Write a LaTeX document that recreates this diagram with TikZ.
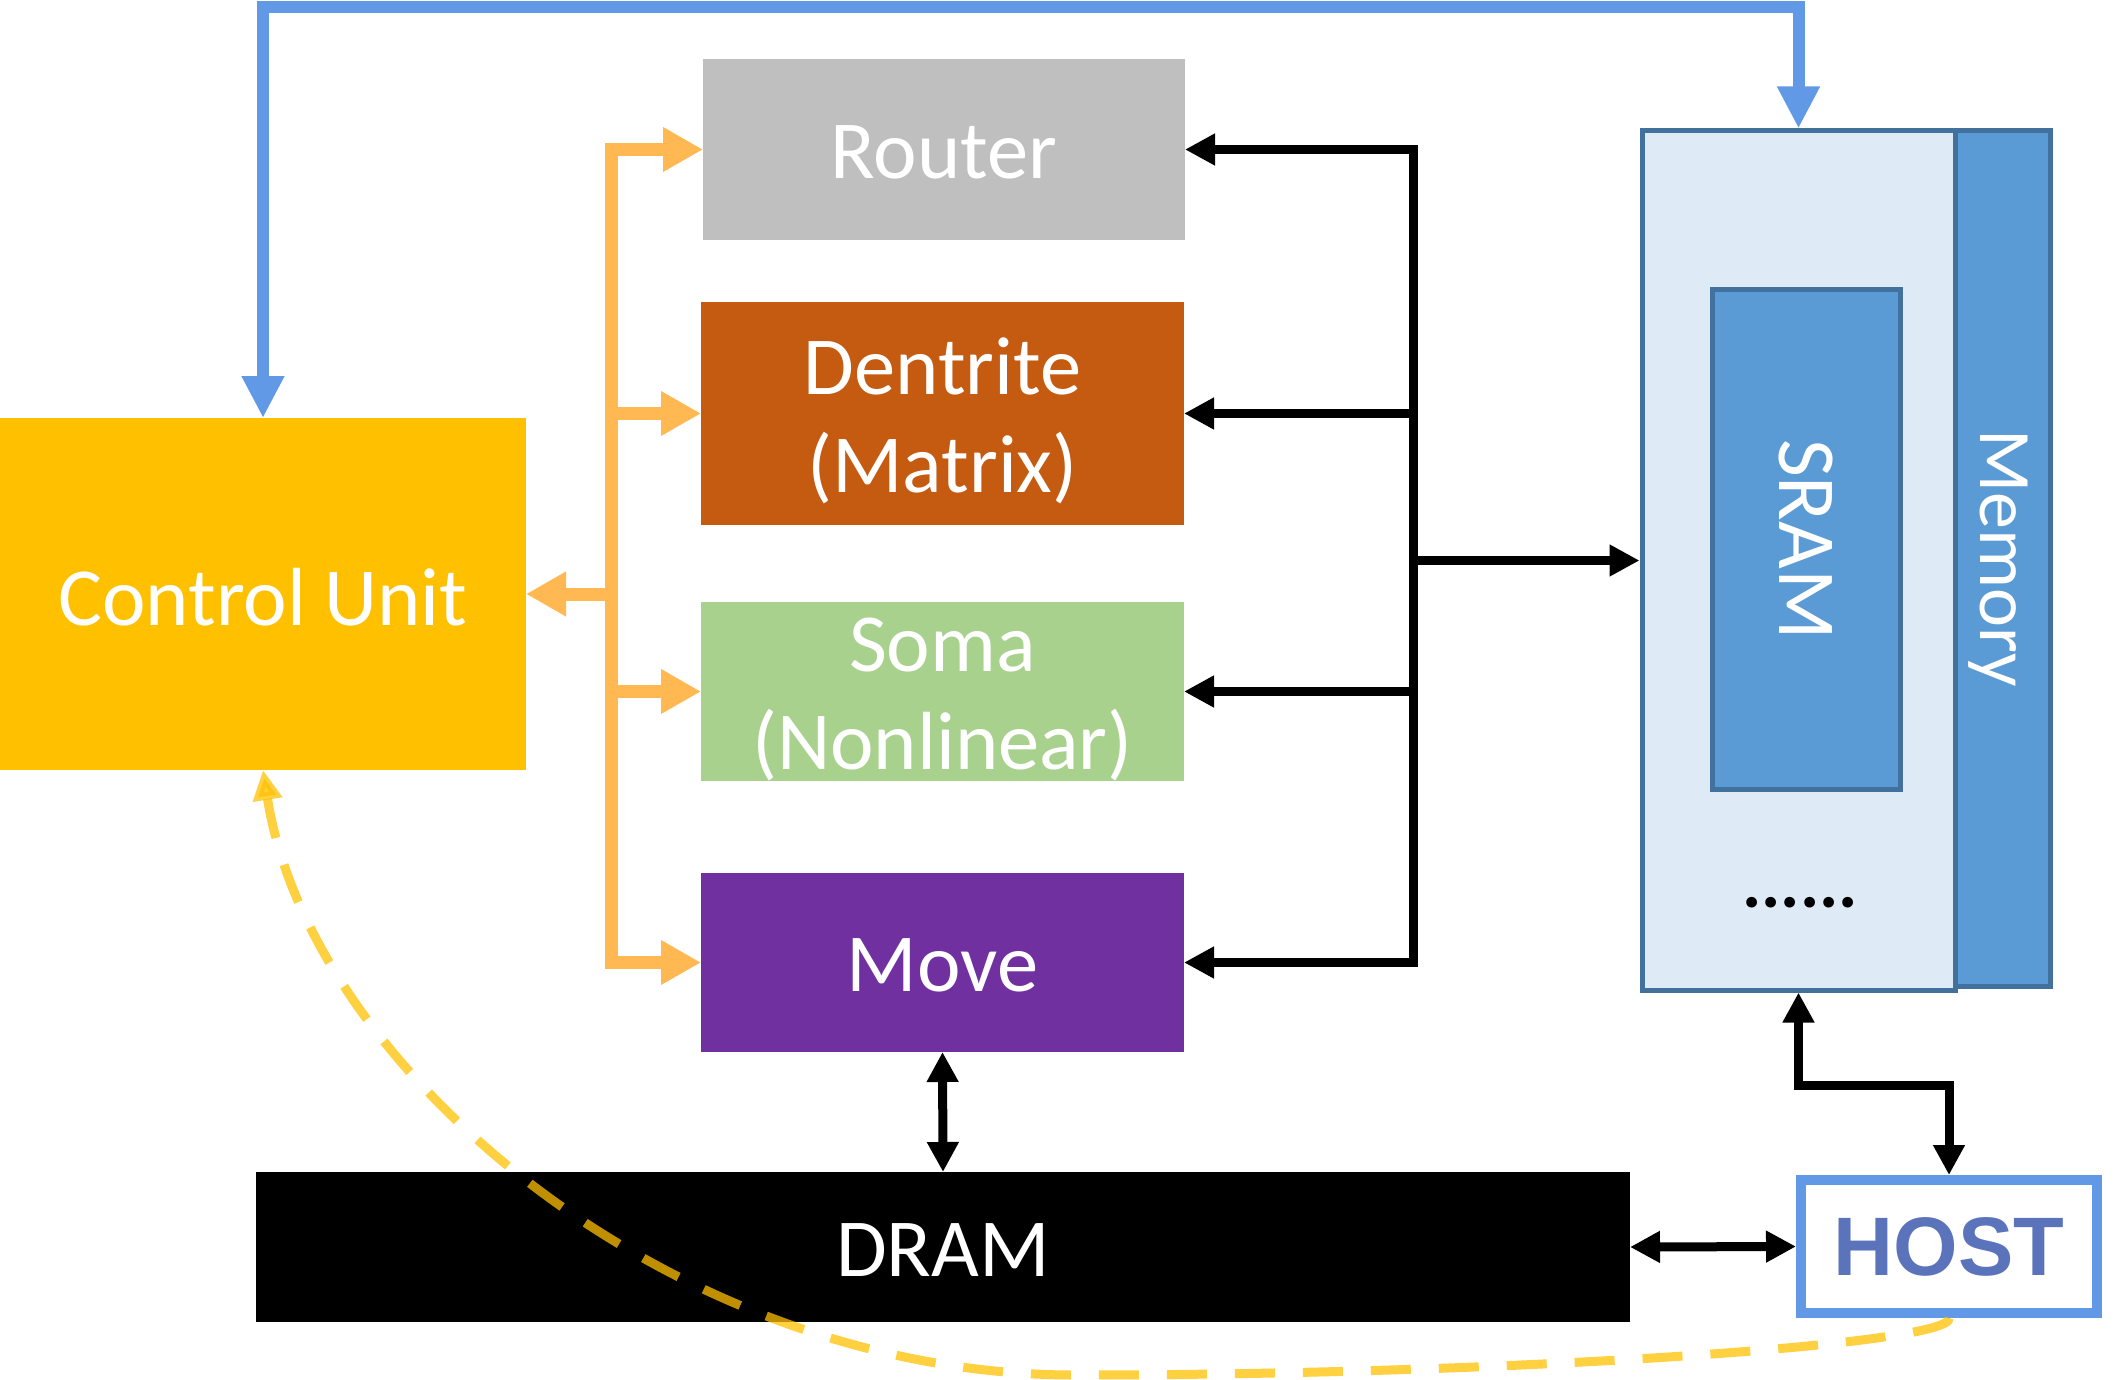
\documentclass[tikz,border=0pt]{standalone}
\usepackage{fontspec}
\setmainfont{Carlito}
\newfontfamily\hostfont{Liberation Sans}
\usetikzlibrary{arrows.meta}
\definecolor{cuY}{HTML}{FFC000}
\definecolor{rtG}{HTML}{BFBFBF}
\definecolor{dnO}{HTML}{C55A11}
\definecolor{smG}{HTML}{A9D18E}
\definecolor{mvP}{HTML}{7030A0}
\definecolor{memL}{HTML}{DEEBF7}
\definecolor{memB}{HTML}{41719C}
\definecolor{memD}{HTML}{5B9BD5}
\definecolor{blueL}{HTML}{6199E6}
\definecolor{hostT}{HTML}{5B73BB}
\definecolor{orgL}{HTML}{FFB852}
\begin{document}
\begin{tikzpicture}[x=1pt,y=-1pt,
  box/.style={inner sep=0pt, outer sep=0pt, text=white, align=center,
    font=\fontsize{82.5}{98}\selectfont},
  membox/.style={draw=memB, line width=5pt, inner sep=0pt, outer sep=2.5pt},
  bline/.style={draw=black, line width=9pt},
  barr/.style={bline, -{Triangle[length=30pt,width=30pt]}},
  bbarr/.style={bline, {Triangle[length=30pt,width=30pt]}-{Triangle[length=30pt,width=30pt]}},
  oline/.style={draw=orgL, line width=13pt},
  oarr/.style={oline, -{Triangle[length=40pt,width=42pt]}},
  blu/.style={draw=blueL, line width=12pt, {Triangle[length=42pt,width=40pt]}-{Triangle[length=42pt,width=40pt]}},
  yel/.style={draw=cuY, draw opacity=0.75, fill opacity=0.75, line width=9pt,
    dash pattern=on 40pt off 28pt, -{Triangle[length=30pt,width=28pt,fill=cuY]}}
]
\useasboundingbox (0,0) rectangle (2115,1380);

% blocks
\node[box, fill=cuY, minimum width=526pt, minimum height=352pt] (CU) at (263,594) {};
\node[box] (culbl) at ([yshift=-3pt]CU.center) {Control Unit};
\node[box, fill=rtG, minimum width=482pt, minimum height=181pt] (Router) at (944,149.5) {};
\node[box] (rtlbl) at ([yshift=-3pt]Router.center) {Router};
\node[box, fill=dnO, minimum width=483pt, minimum height=223pt] (Dent) at (942.5,413.5) {};
\node[box] (dnlbl) at ([yshift=-7pt]Dent.center) {Dentrite\\(Matrix)};
\node[box, fill=smG, minimum width=483pt, minimum height=179pt] (Soma) at (942.5,691.5) {};
\node[box] (smlbl) at ([yshift=-8pt]Soma.center) {Soma\\(Nonlinear)};
\node[box, fill=mvP, minimum width=483pt, minimum height=179pt] (Move) at (942.5,962.5) {};
\node[box] (mvlbl) at ([yshift=-3pt]Move.center) {Move};
\node[box, fill=black, minimum width=1374pt, minimum height=150pt] (DRAM) at (943,1247) {};
\node[box] (drlbl) at ([yshift=-3pt]DRAM.center) {DRAM};

% memory
\node[membox, fill=memD, minimum width=95pt, minimum height=855pt] (MemStrip) at (2002.5,558.5) {};
\node[membox, fill=memL, minimum width=313pt, minimum height=859pt] (Mem) at (1798.5,560.5) {};
\node[membox, fill=memD, minimum width=188pt, minimum height=499pt] (SRAM) at (1806,539.5) {};
\node[box, rotate=-90] (sramlbl) at (SRAM.center) {SRAM};
\node[box, rotate=-90, font=\fontsize{74}{90}\selectfont] (memlbl) at ([xshift=-4pt]MemStrip.center) {Memory};
\node[box, text=black, font=\bfseries\fontsize{72}{90}\selectfont] (dots) at (1800,903) {......};

% host
\node[draw=blueL, line width=10pt, fill=white, inner sep=0pt, outer sep=5pt,
  minimum width=296pt, minimum height=133pt, text=hostT,
  font=\hostfont\bfseries\fontsize{83}{100}\selectfont] (HOST) at (1949,1246.5) {HOST};

% blue control line
\coordinate (btop) at (0,7);
\draw[blu] (CU.north) -- (CU.north |- btop) -- (Mem.north |- btop) -- (Mem.north);

% orange bus
\coordinate (ob) at (611,0);
\draw[oarr] (ob |- Dent.west) -- (ob |- Router.west) -- (Router.west);
\draw[oarr] (ob |- Soma.west) -- (ob |- Move.west) -- (Move.west);
\draw[oline] (ob |- Dent.west) -- (ob |- Soma.west);
\draw[oarr] (ob |- Dent.west) -- (Dent.west);
\draw[oarr] (ob |- Soma.west) -- (Soma.west);
\draw[oarr] (ob |- CU.east) -- (CU.east);

% black bus
\coordinate (kb) at (1413,0);
\draw[barr] (kb |- Dent.east) -- (kb |- Router.east) -- (Router.east);
\draw[barr] (kb |- Soma.east) -- (kb |- Move.east) -- (Move.east);
\draw[bline] (kb |- Dent.east) -- (kb |- Soma.east);
\draw[barr] (kb |- Dent.east) -- (Dent.east);
\draw[barr] (kb |- Soma.east) -- (Soma.east);
\draw[barr] (kb |- Mem.west) -- (Mem.west);

% other links
\draw[bbarr] (Move.south) -- (DRAM.north);
\draw[bbarr] (DRAM.east) -- (HOST.west);
\draw[bbarr] (Mem.south) -- ++(0,93) -| (HOST.north);

% dashed feedback
\draw[yel] (HOST.south) .. controls (1955,1345) and (1500,1375) .. (1079,1375)
  .. controls (675,1377) and (310,1070) .. (CU.south);
\end{tikzpicture}
\end{document}
